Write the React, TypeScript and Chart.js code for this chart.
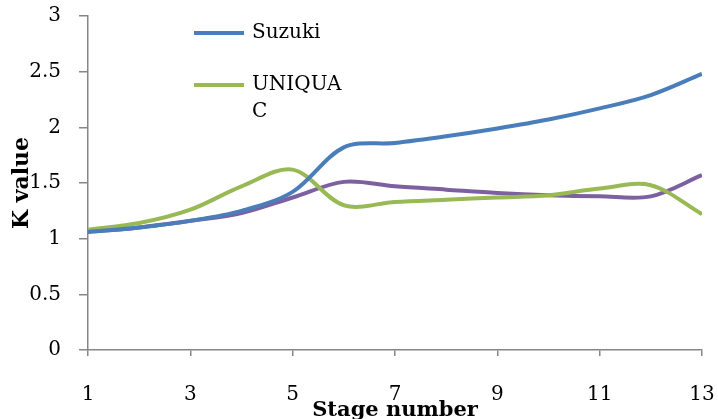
import { useEffect, useRef } from "react";
import { Chart, registerables } from "chart.js";

Chart.register(...registerables);

// ---- data ----
const stages = [1, 2, 3, 4, 5, 6, 7, 8, 9, 10, 11, 12, 13];
const suzuki = [1.06, 1.1, 1.16, 1.25, 1.42, 1.82, 1.86, 1.92, 1.99, 2.07, 2.17, 2.29, 2.48];
const uniquac = [1.08, 1.14, 1.26, 1.47, 1.62, 1.3, 1.33, 1.35, 1.37, 1.39, 1.45, 1.48, 1.22];
const series3 = [1.06, 1.1, 1.16, 1.23, 1.37, 1.51, 1.47, 1.44, 1.41, 1.39, 1.38, 1.38, 1.57];
const seriesNames = ["Suzuki", "UNIQUAC", "Series3"];
const legendLines = [["Suzuki"], ["UNIQUA", "C"]];
const yTickValues = [0, 0.5, 1, 1.5, 2, 2.5, 3];
const xTickValues = [1, 3, 5, 7, 9, 11, 13];
const xTitle = "Stage number";
const yTitle = "K value";

const colors = ["#4A7EBB", "#98B954", "#7D60A0"];
const FONT = "'DejaVu Serif', 'Liberation Serif', serif";
const AXIS = "#868686";

const toPoints = (vals: number[]) => stages.map((s, i) => ({ x: s, y: vals[i] }));

const legendPlugin = {
  id: "insideLegend",
  afterDraw(chart: any) {
    const { ctx, chartArea } = chart;
    ctx.save();
    const x0 = chartArea.left + 106;
    const rows = [chartArea.top + 17, chartArea.top + 69];
    legendLines.forEach((lines, i) => {
      const y = rows[i];
      ctx.strokeStyle = colors[i];
      ctx.lineWidth = 4;
      ctx.lineCap = "butt";
      ctx.beginPath();
      ctx.moveTo(x0, y);
      ctx.lineTo(x0 + 50, y);
      ctx.stroke();
      ctx.fillStyle = "#000";
      ctx.font = `20px ${FONT}`;
      ctx.textBaseline = "middle";
      ctx.textAlign = "left";
      lines.forEach((t, j) => ctx.fillText(t, x0 + 58, y + j * 27));
    });
    ctx.restore();
  },
};

export default function App() {
  const ref = useRef<HTMLCanvasElement | null>(null);
  useEffect(() => {
    if (!ref.current) return;
    const data = [suzuki, uniquac, series3];
    const chart = new Chart(ref.current, {
      type: "line",
      data: {
        datasets: data.map((vals, i) => ({
          label: seriesNames[i],
          data: toPoints(vals),
          borderColor: colors[i],
          backgroundColor: colors[i],
          borderWidth: 4,
          pointRadius: 0,
          tension: 0.33,
          fill: false,
        })),
      },
      options: {
        animation: false,
        responsive: false,
        layout: { padding: { top: 16, right: 16, left: 0, bottom: 0 } },
        plugins: { legend: { display: false }, tooltip: { enabled: false } },
        scales: {
          x: {
            type: "linear",
            min: 1,
            max: 13,
            afterFit(scale: any) {
              scale.height = 69;
              scale.paddingLeft = 0;
              scale.paddingRight = 0;
            },
            afterBuildTicks(scale: any) {
              scale.ticks = xTickValues.map((v) => ({ value: v }));
            },
            border: { display: true, color: AXIS, width: 1.5 },
            grid: { display: true, drawOnChartArea: false, drawTicks: true, tickLength: 6, color: AXIS, lineWidth: 1.5 },
            ticks: {
              color: "#000",
              font: { family: FONT, size: 20 },
              padding: 27,
              maxRotation: 0,
              autoSkip: false,
              callback: (v: any) => String(v),
            },
            title: { display: true, text: xTitle, color: "#000", font: { family: FONT, size: 21, weight: "bold" }, padding: { top: 0, bottom: -4 } },
          },
          y: {
            min: 0,
            max: 3,
            afterFit(scale: any) {
              scale.width = 88;
              scale.paddingTop = 0;
              scale.paddingBottom = 0;
            },
            afterBuildTicks(scale: any) {
              scale.ticks = yTickValues.map((v) => ({ value: v }));
            },
            border: { display: true, color: AXIS, width: 1.5 },
            grid: { display: true, drawOnChartArea: false, drawTicks: true, tickLength: 9, color: AXIS, lineWidth: 1.5 },
            ticks: { color: "#000", font: { family: FONT, size: 20 }, padding: 18, callback: (v: any) => String(v) },
            title: { display: true, text: yTitle, color: "#000", font: { family: FONT, size: 22, weight: "bold" }, padding: { top: 9, bottom: 0 } },
          },
        },
      },
      plugins: [legendPlugin],
    } as any);
    return () => chart.destroy();
  }, []);
  return (
    <div style={{ position: "absolute", left: 0, top: 0, width: 718, height: 419, background: "#fff" }}>
      <canvas ref={ref} width={718} height={419} />
    </div>
  );
}
